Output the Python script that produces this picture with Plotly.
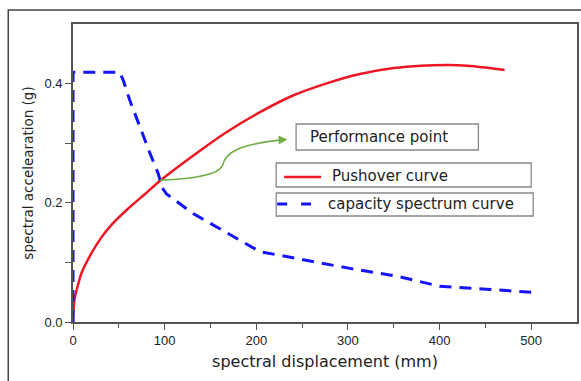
import plotly.graph_objects as go

# ---- data ----
pushover_sd = [0, 1.5, 9, 20, 31, 42, 60, 78, 95, 131, 167, 204, 240, 276, 313, 350, 380, 410, 430, 450, 471]
pushover_sa = [0, 0.037, 0.081, 0.115, 0.142, 0.163, 0.190, 0.214, 0.237, 0.279, 0.318, 0.352, 0.38, 0.40,
               0.416, 0.426, 0.430, 0.431, 0.430, 0.427, 0.423]

capacity_sd = [0, 0, 51, 55, 62, 73, 84, 93, 97, 102, 131, 204, 251, 302, 356, 400, 451, 500]
capacity_sa = [0, 0.419, 0.419, 0.405, 0.372, 0.327, 0.283, 0.249, 0.226, 0.215, 0.182, 0.118, 0.104, 0.09,
               0.076, 0.06, 0.055, 0.05]

x_ticks = [0, 100, 200, 300, 400, 500]
y_ticks = [0.0, 0.2, 0.4]
y_tick_text = ["0.0", "0.2", "0.4"]

W, H = 581, 381
ML, MR, MT, MB = 73, 2, 24, 59
PW, PH = W - ML - MR, H - MT - MB

def px(x):
    return (x - ML) / PW

def py(y):
    return (H - MB - y) / PH

RED = "#ee1622"
BLUE = "#1414ff"
GREEN = "#70ad47"
TXT = "#222222"
AX = "#555555"

fig = go.Figure()
fig.add_trace(go.Scatter(x=pushover_sd, y=pushover_sa, mode="lines", name="Pushover curve",
                         line=dict(color=RED, width=2.5, shape="spline", smoothing=0.5),
                         showlegend=False, hoverinfo="skip"))
fig.add_trace(go.Scatter(x=capacity_sd, y=capacity_sa, mode="lines", name="capacity spectrum curve",
                         line=dict(color=BLUE, width=3, dash="12px,8px"),
                         showlegend=False, hoverinfo="skip"))

shapes = []
# outer frame
shapes.append(dict(type="rect", xref="paper", yref="paper", x0=px(8), x1=px(590), y0=py(395), y1=py(10),
                   line=dict(color="#444444", width=1.5), fillcolor="rgba(0,0,0,0)", layer="below"))
# green curved pointer
shapes.append(dict(type="path", xref="x", yref="y",
                   path="M 95,0.238 C 130,0.240 158,0.246 163,0.262 C 166,0.285 182,0.299 230,0.3055",
                   line=dict(color=GREEN, width=1.6)))
# Performance point box
shapes.append(dict(type="rect", xref="paper", yref="paper", x0=px(297), x1=px(480), y0=py(150), y1=py(124),
                   line=dict(color="#888888", width=1.3), fillcolor="white"))
# legend boxes
shapes.append(dict(type="rect", xref="paper", yref="paper", x0=px(277), x1=px(533), y0=py(187), y1=py(163),
                   line=dict(color="#888888", width=1.3), fillcolor="white"))
shapes.append(dict(type="rect", xref="paper", yref="paper", x0=px(277), x1=px(535), y0=py(216), y1=py(193),
                   line=dict(color="#888888", width=1.3), fillcolor="white"))
# legend samples
shapes.append(dict(type="line", xref="paper", yref="paper", x0=px(285), x1=px(322), y0=py(177), y1=py(177),
                   line=dict(color=RED, width=2.5)))
shapes.append(dict(type="line", xref="paper", yref="paper", x0=px(278), x1=px(288), y0=py(204), y1=py(204),
                   line=dict(color=BLUE, width=3)))
shapes.append(dict(type="line", xref="paper", yref="paper", x0=px(302), x1=px(312), y0=py(204), y1=py(204),
                   line=dict(color=BLUE, width=3)))

FONT = "DejaVu Sans"
annotations = [
    dict(x=234, y=0.306, ax=226, ay=0.3055, xref="x", yref="y", axref="x", ayref="y", text="",
         showarrow=True, arrowhead=2, arrowsize=1.1, arrowwidth=1.6, arrowcolor=GREEN, standoff=0),
    dict(x=px(309), y=py(137), xref="paper", yref="paper", text="Performance point", showarrow=False,
         xanchor="left", yanchor="middle", font=dict(family=FONT, size=15, color=TXT)),
    dict(x=px(331), y=py(175.5), xref="paper", yref="paper", text="Pushover curve", showarrow=False,
         xanchor="left", yanchor="middle", font=dict(family=FONT, size=15, color=TXT)),
    dict(x=px(327), y=py(204), xref="paper", yref="paper", text="capacity spectrum curve", showarrow=False,
         xanchor="left", yanchor="middle", font=dict(family=FONT, size=15, color=TXT)),
]

fig.update_layout(
    width=W, height=H,
    margin=dict(l=ML, r=MR, t=MT, b=MB, pad=0),
    paper_bgcolor="white", plot_bgcolor="white",
    shapes=shapes, annotations=annotations,
    showlegend=False,
)
fig.update_xaxes(range=[0, 550], tickvals=x_ticks, ticktext=[str(v) for v in x_ticks],
                 ticks="outside", ticklen=6, tickwidth=1.3, tickcolor=AX,
                 minor=dict(tickvals=[50, 150, 250, 350, 450], ticks="outside", ticklen=4, tickcolor=AX, tickwidth=1.3),
                 showline=True, linecolor=AX, linewidth=1.6, mirror=True, showgrid=False, zeroline=False,
                 tickfont=dict(family="Liberation Sans", size=13, color=TXT),
                 title=dict(text="spectral displacement (mm)", standoff=8,
                            font=dict(family=FONT, size=16, color=TXT)))
fig.update_yaxes(range=[0, 0.5], tickvals=y_ticks, ticktext=y_tick_text,
                 ticks="outside", ticklen=6, tickwidth=1.3, tickcolor=AX,
                 minor=dict(tickvals=[0.1, 0.3], ticks="outside", ticklen=6, tickcolor=AX, tickwidth=1.3),
                 showline=True, linecolor=AX, linewidth=1.6, mirror=True, showgrid=False, zeroline=False,
                 tickfont=dict(family="Liberation Sans", size=13, color=TXT),
                 title=dict(text="spectral accelearation (g)", standoff=8,
                            font=dict(family=FONT, size=13.5, color=TXT)))

fig.write_html("out.html")
